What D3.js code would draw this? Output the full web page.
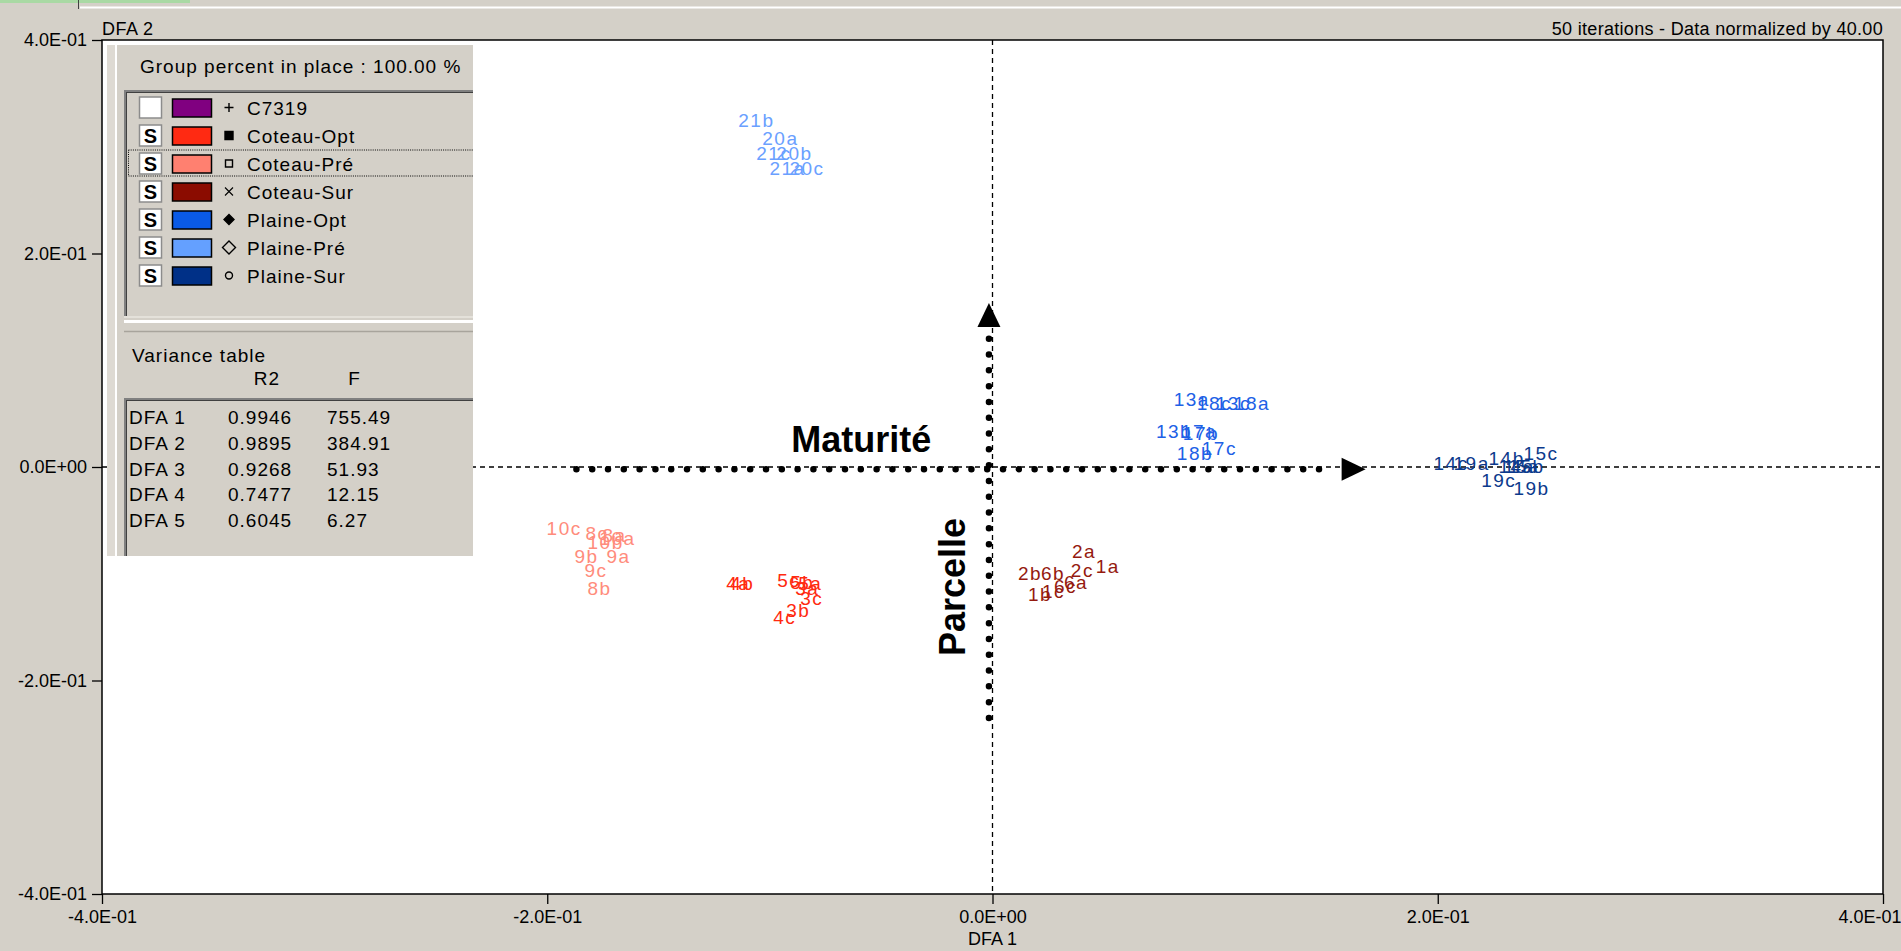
<!DOCTYPE html>
<html><head><meta charset="utf-8">
<script src="https://cdn.jsdelivr.net/npm/d3@7"></script>
<style>
html,body{margin:0;padding:0;background:#d4d0c8;overflow:hidden}
svg{display:block}
text{font-family:"Liberation Sans",Arial,sans-serif}
</style></head><body>
<svg id="chart" width="1901" height="951"></svg>
<script>
// ---- groups ----
const groupNames   = ["C7319","Coteau-Opt","Coteau-Pré","Coteau-Sur","Plaine-Opt","Plaine-Pré","Plaine-Sur"];
const groupShown   = [false, true, true, true, true, true, true];
const groupSymbols = ["plus","square","squareOpen","times","diamond","diamondOpen","circleOpen"];
const swatchColors = ["#800080","#ff2a12","#ff8070","#8b0c00","#0a5ae6","#64a0ff","#003087"];
const labelColors  = ["#800080","#ff2a10","#ff8c7c","#951a0f","#2060e6","#6aa0ff","#0c3a8c"];

// ---- observations (DFA 1 / DFA 2 scores) ----
const pointLabels = [
  "21b","20a","21c","20b","21a","20c",
  "10c","8c","8a","10a","10b","9b","9a","9c","8b",
  "4a","4b","5c","5b","5a","3a","3c","3b","4c",
  "2a","2b","6b","2c","1a","6a","6c","1c","1b",
  "13a","18c","13c","18a","13b","17a","17b","18b","17c",
  "14c","19a","14b","15c","14a","15a","15b","19c","19b"
];
const pointGroups = [
  "Plaine-Pré","Plaine-Pré","Plaine-Pré","Plaine-Pré","Plaine-Pré","Plaine-Pré",
  "Coteau-Pré","Coteau-Pré","Coteau-Pré","Coteau-Pré","Coteau-Pré","Coteau-Pré","Coteau-Pré","Coteau-Pré","Coteau-Pré",
  "Coteau-Opt","Coteau-Opt","Coteau-Opt","Coteau-Opt","Coteau-Opt","Coteau-Opt","Coteau-Opt","Coteau-Opt","Coteau-Opt",
  "Coteau-Sur","Coteau-Sur","Coteau-Sur","Coteau-Sur","Coteau-Sur","Coteau-Sur","Coteau-Sur","Coteau-Sur","Coteau-Sur",
  "Plaine-Opt","Plaine-Opt","Plaine-Opt","Plaine-Opt","Plaine-Opt","Plaine-Opt","Plaine-Opt","Plaine-Opt","Plaine-Opt",
  "Plaine-Sur","Plaine-Sur","Plaine-Sur","Plaine-Sur","Plaine-Sur","Plaine-Sur","Plaine-Sur","Plaine-Sur","Plaine-Sur"
];
const dfa1 = [
  -0.1142,-0.1034,-0.1061,-0.0971,-0.1002,-0.0912,
  -0.2003,-0.1828,-0.1752,-0.1766,-0.1819,-0.1878,-0.1734,-0.1833,-0.1819,
  -0.1196,-0.1178,-0.0967,-0.0909,-0.0873,-0.0886,-0.0864,-0.0927,-0.0985,
  0.0357,0.0114,0.0218,0.0352,0.0464,0.0321,0.0276,0.0222,0.0159,
  0.0814,0.0918,0.1003,0.1084,0.0734,0.0846,0.0855,0.0828,0.0940,
  0.1981,0.2071,0.2228,0.2385,0.2273,0.2295,0.2317,0.2195,0.2340
];
const dfa2 = [
  0.3185,0.3016,0.2876,0.2876,0.2735,0.2735,
  -0.0637,-0.0684,-0.0703,-0.0731,-0.0768,-0.0899,-0.0899,-0.1030,-0.1199,
  -0.1152,-0.1152,-0.1124,-0.1143,-0.1152,-0.1199,-0.1293,-0.1405,-0.1471,
  -0.0852,-0.1059,-0.1059,-0.1030,-0.0993,-0.1143,-0.1180,-0.1227,-0.1255,
  0.0571,0.0534,0.0534,0.0534,0.0272,0.0272,0.0253,0.0066,0.0112,
  -0.0028,-0.0028,0.0019,0.0066,-0.0056,-0.0056,-0.0056,-0.0187,-0.0262
];

// ---- axes ----
const axisDomain = [-0.4, 0.4];
const axisTicks  = [-0.4, -0.2, 0, 0.2, 0.4];
const xTitle = "DFA 1", yTitle = "DFA 2";

// ---- analysis summary ----
const groupPercent = 100;
const iterations = 50;
const normalization = 40;
const varianceAxes = ["DFA 1","DFA 2","DFA 3","DFA 4","DFA 5"];
const varianceR2   = [0.9946, 0.9895, 0.9268, 0.7477, 0.6045];
const varianceF    = [755.49, 384.91, 51.93, 12.15, 6.27];

// ---- interpretation arrows (DFA units) ----
const maturiteArrow  = {from:[-0.1869,-0.002], to:[0.1676,-0.002], text:"Maturité", at:[-0.059, 0.014]};
const parcelleArrow  = {from:[-0.0016,-0.2351], to:[-0.0016,0.1536], text:"Parcelle", at:[-0.0123,-0.1124]};

// ================= drawing =================
const W = 1901;
const svg = d3.select("#chart");
const x = d3.scaleLinear().domain(axisDomain).range([102, 1883]);
const y = d3.scaleLinear().domain(axisDomain).range([894, 40]);
const FONT = '"Liberation Sans",Arial,sans-serif';

// window strip at the top
svg.append("rect").attr("x",0).attr("y",0).attr("width",190).attr("height",3).attr("fill","#a9d9a4");
svg.append("line").attr("x1",78.5).attr("x2",78.5).attr("y1",0).attr("y2",9).attr("stroke","#404040");
svg.append("line").attr("x1",80).attr("x2",W).attr("y1",7.5).attr("y2",7.5).attr("stroke","#ffffff").attr("stroke-width",2);

// plot background
svg.append("rect").attr("x",x(-0.4)).attr("y",y(0.4)).attr("width",x(0.4)-x(-0.4)).attr("height",y(-0.4)-y(0.4)).attr("fill","#fff");

// zero reference lines
svg.append("line").attr("x1",x(0)).attr("x2",x(0)).attr("y1",y(0.4)).attr("y2",y(-0.4))
  .attr("stroke","#000").attr("stroke-width",1.3).attr("stroke-dasharray","5,4");
svg.append("line").attr("x1",x(-0.4)).attr("x2",x(0.4)).attr("y1",y(0)).attr("y2",y(0))
  .attr("stroke","#000").attr("stroke-width",1.3).attr("stroke-dasharray","5,4");

// observation labels
const pts = pointLabels.map((l,i)=>({label:l, group:pointGroups[i], d1:dfa1[i], d2:dfa2[i]}));
svg.append("g").selectAll("text").data(pts).join("text")
  .attr("x",d=>x(d.d1)).attr("y",d=>y(d.d2))
  .attr("fill",d=>labelColors[groupNames.indexOf(d.group)])
  .attr("font-size",19).attr("letter-spacing",1.5)
  .text(d=>d.label);

// interpretation arrows
function dottedArrow(a){
  const x1=x(a.from[0]), y1=y(a.from[1]), x2=x(a.to[0]), y2=y(a.to[1]);
  const len=Math.hypot(x2-x1,y2-y1), ux=(x2-x1)/len, uy=(y2-y1)/len;
  const head=24, gap=35;
  svg.append("line").attr("x1",x1).attr("y1",y1).attr("x2",x2-ux*gap).attr("y2",y2-uy*gap)
    .attr("stroke","#000").attr("stroke-width",6.5).attr("stroke-linecap","round").attr("stroke-dasharray","0,15.8");
  const bx=x2-ux*head, by=y2-uy*head, px=-uy, py=ux, hw=11.5;
  svg.append("path").attr("d",`M${x2},${y2}L${bx+px*hw},${by+py*hw}L${bx-px*hw},${by-py*hw}Z`).attr("fill","#000");
}
dottedArrow(maturiteArrow);
dottedArrow(parcelleArrow);
svg.append("text").attr("x",x(maturiteArrow.at[0])).attr("y",y(maturiteArrow.at[1]))
  .attr("text-anchor","middle").attr("font-weight","bold").attr("font-size",36).text(maturiteArrow.text);
svg.append("text").attr("transform",`translate(${x(parcelleArrow.at[0])},${y(parcelleArrow.at[1])}) rotate(-90)`)
  .attr("text-anchor","middle").attr("font-weight","bold").attr("font-size",36).text(parcelleArrow.text);

// ---- legend / summary panel ----
const P = {x0:107, y0:45, x1:473, y1:556};
svg.append("clipPath").attr("id","panelClip").append("rect")
  .attr("x",P.x0).attr("y",P.y0).attr("width",P.x1-P.x0).attr("height",P.y1-P.y0);
const panel = svg.append("g").attr("clip-path","url(#panelClip)");
panel.append("rect").attr("x",P.x0).attr("y",P.y0).attr("width",P.x1-P.x0).attr("height",P.y1-P.y0).attr("fill","#d4d0c8");
panel.append("rect").attr("x",P.x0).attr("y",P.y0).attr("width",8).attr("height",P.y1-P.y0).attr("fill","#dedad3");
panel.append("line").attr("x1",116).attr("x2",116).attr("y1",P.y0).attr("y2",P.y1).attr("stroke","#fff").attr("stroke-width",2);

panel.append("text").attr("x",140).attr("y",73).attr("font-size",19).attr("letter-spacing",1)
  .text(`Group percent in place : ${groupPercent.toFixed(2)} %`);

// group list box
panel.append("line").attr("x1",125).attr("x2",P.x1).attr("y1",91).attr("y2",91).attr("stroke","#808080").attr("stroke-width",2);
panel.append("line").attr("x1",125).attr("x2",P.x1).attr("y1",92.5).attr("y2",92.5).attr("stroke","#404040");
panel.append("line").attr("x1",125).attr("x2",125).attr("y1",90).attr("y2",316).attr("stroke","#808080").attr("stroke-width",2);
panel.append("line").attr("x1",126.5).attr("x2",126.5).attr("y1",92).attr("y2",316).attr("stroke","#404040");
panel.append("line").attr("x1",124).attr("x2",P.x1).attr("y1",317).attr("y2",317).attr("stroke","#e4e1da").attr("stroke-width",2);
panel.append("line").attr("x1",124).attr("x2",P.x1).attr("y1",321.5).attr("y2",321.5).attr("stroke","#fff").attr("stroke-width",3);
panel.append("line").attr("x1",124).attr("x2",P.x1).attr("y1",331.5).attr("y2",331.5).attr("stroke","#a8a49c").attr("stroke-width",1.5);

function symbolPath(kind){
  switch(kind){
    case "plus": return "M-4.5,0H4.5M0,-4.5V4.5";
    case "square": return "M-4,-4H4V4H-4Z";
    case "squareOpen": return "M-3.5,-3.5H3.5V3.5H-3.5Z";
    case "times": return "M-4,-4L4,4M-4,4L4,-4";
    case "diamond": return "M0,-5L5,0L0,5L-5,0Z";
    case "diamondOpen": return "M0,-6.5L6.5,0L0,6.5L-6.5,0Z";
    case "circleOpen": return "M3.5,0A3.5,3.5 0 1,1 -3.5,0A3.5,3.5 0 1,1 3.5,0Z";
  }
}
const rowY = i => 107.5 + i*28;
const rows = panel.append("g").selectAll("g").data(groupNames).join("g")
  .attr("transform",(d,i)=>`translate(0,${rowY(i)})`);
rows.append("rect").attr("x",139.5).attr("y",-10.5).attr("width",22).attr("height",21)
  .attr("fill","#fff").attr("stroke","#8c8c8c").attr("stroke-width",1.5);
rows.filter((d,i)=>groupShown[i]).append("text").attr("x",150.5).attr("y",7.5).attr("text-anchor","middle")
  .attr("font-weight","bold").attr("font-size",20).attr("font-family",'"DejaVu Sans",sans-serif').text("S");
rows.append("rect").attr("x",172.5).attr("y",-8.5).attr("width",39).attr("height",18)
  .attr("fill",(d,i)=>swatchColors[i]).attr("stroke","#000").attr("stroke-width",1.5);
rows.append("path").attr("transform","translate(229,0)").attr("d",(d,i)=>symbolPath(groupSymbols[i]))
  .attr("fill",(d,i)=>["square","diamond"].includes(groupSymbols[i])?"#000":"none")
  .attr("stroke","#000").attr("stroke-width",(d,i)=>groupSymbols[i]==="times"?1.1:1.4);
rows.append("text").attr("x",247).attr("y",7.5).attr("font-size",19).attr("letter-spacing",1).text(d=>d);
// focus frame on the selected row
const sel = groupNames.indexOf("Coteau-Pré");
panel.append("rect").attr("x",128.5).attr("y",rowY(sel)-13.5).attr("width",400).attr("height",26)
  .attr("fill","none").attr("stroke","#000").attr("stroke-width",1).attr("stroke-dasharray","1,1.2");

// variance table
panel.append("text").attr("x",132).attr("y",362).attr("font-size",19).attr("letter-spacing",1).text("Variance table");
panel.append("text").attr("x",267).attr("y",385).attr("text-anchor","middle").attr("font-size",19).attr("letter-spacing",1).text("R2");
panel.append("text").attr("x",354).attr("y",385).attr("text-anchor","middle").attr("font-size",19).text("F");
panel.append("line").attr("x1",124).attr("x2",P.x1).attr("y1",399).attr("y2",399).attr("stroke","#808080").attr("stroke-width",2);
panel.append("line").attr("x1",126).attr("x2",P.x1).attr("y1",400.5).attr("y2",400.5).attr("stroke","#404040");
panel.append("line").attr("x1",125).attr("x2",125).attr("y1",398).attr("y2",P.y1).attr("stroke","#808080").attr("stroke-width",2);
panel.append("line").attr("x1",126.5).attr("x2",126.5).attr("y1",400).attr("y2",P.y1).attr("stroke","#404040");
const vrows = panel.append("g").selectAll("g").data(varianceAxes).join("g")
  .attr("transform",(d,i)=>`translate(0,${424 + i*25.8})`)
  .attr("font-size",19).attr("letter-spacing",1);
vrows.append("text").attr("x",129).text(d=>d);
vrows.append("text").attr("x",228).text((d,i)=>varianceR2[i].toFixed(4));
vrows.append("text").attr("x",327).text((d,i)=>varianceF[i].toFixed(2));

// ---- frame and axes ----
svg.append("rect").attr("x",x(-0.4)).attr("y",y(0.4)).attr("width",x(0.4)-x(-0.4)).attr("height",y(-0.4)-y(0.4))
  .attr("fill","none").attr("stroke","#000").attr("stroke-width",1.5);
const fmt = v => v.toExponential(1).toUpperCase().replace(/E([+-])(\d)$/,"E$10$2");
const gx = svg.append("g").attr("transform",`translate(0,${y(-0.4)})`)
  .call(d3.axisBottom(x).tickValues(axisTicks).tickFormat(fmt).tickSize(10).tickSizeOuter(0).tickPadding(6));
const gy = svg.append("g").attr("transform",`translate(${x(-0.4)},0)`)
  .call(d3.axisLeft(y).tickValues(axisTicks).tickFormat(fmt).tickSize(10).tickSizeOuter(0).tickPadding(5));
[gx,gy].forEach(g=>{
  g.select(".domain").remove();
  g.selectAll(".tick line").attr("stroke","#000").attr("stroke-width",1.3);
  g.selectAll(".tick text").attr("fill","#000").attr("font-size",18).attr("font-family",FONT);
});
// last bottom label is kept inside the window edge
gx.selectAll(".tick").filter(d=>d===axisDomain[1]).select("text")
  .attr("text-anchor","end").attr("x",W - x(axisDomain[1]));

svg.append("text").attr("x",x(0)).attr("y",945).attr("text-anchor","middle").attr("font-size",18).text(xTitle);
svg.append("text").attr("x",x(-0.4)).attr("y",35).attr("font-size",18).attr("letter-spacing",0.5).text(yTitle);
svg.append("text").attr("x",x(0.4)).attr("y",35).attr("text-anchor","end").attr("font-size",18).attr("letter-spacing",0.3)
  .text(`${iterations} iterations - Data normalized by ${normalization.toFixed(2)}`);
</script>
</body></html>
